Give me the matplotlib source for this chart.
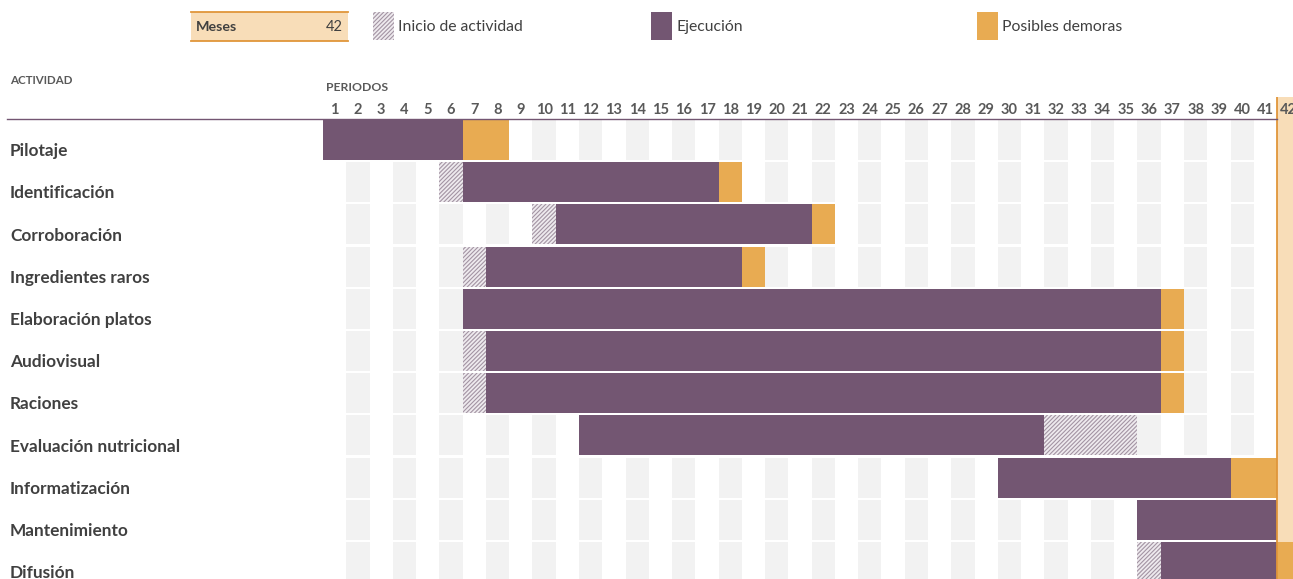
import matplotlib
matplotlib.use("Agg")
import matplotlib.pyplot as plt
from matplotlib.patches import Rectangle
from matplotlib.lines import Line2D

plt.rcParams['font.family'] = ['Lato', 'DejaVu Sans']
plt.rcParams['hatch.linewidth'] = 0.8

actividades = ["Pilotaje", "Identificación", "Corroboración", "Ingredientes raros",
               "Elaboración platos", "Audiovisual", "Raciones", "Evaluación nutricional",
               "Informatización", "Mantenimiento", "Difusión"]
inicio_start = [0, 6, 10, 7, 0, 7, 7, 32, 0, 0, 36]
inicio_len = [0, 1, 1, 1, 0, 1, 1, 4, 0, 0, 1]
ejec_start = [1, 7, 11, 8, 7, 8, 8, 12, 30, 36, 37]
ejec_len = [6, 11, 11, 11, 30, 29, 29, 20, 10, 6, 5]
demora_start = [7, 18, 22, 19, 37, 37, 37, 0, 40, 0, 42]
demora_len = [2, 1, 1, 1, 1, 1, 1, 0, 2, 0, 1]
periodos = list(range(1, 43))
meses = 42

PURPLE = "#735672"
ORANGE = "#E8AB52"
LIGHT_OR = "#F8DDB8"
BORDER_OR = "#E0963A"
GRAY = "#F2F2F2"
TXT = "#404040"
HATCH_FC = "#EEEAEE"
HATCH_EC = "#A394A3"
HATCH = "////////"

W, H = 1293, 579
fig = plt.figure(figsize=(W / 100, H / 100), dpi=100)

# axes: x in periods, y in rows (downward)
ax_left = 323 / W
ax_top_px = 97
ax = fig.add_axes([ax_left, 0, 1 - ax_left, (H - ax_top_px) / H])
row_h = 42.2
ax.set_xlim(0.5, 0.5 + (W - 323) / 23.27)
ax.set_ylim((H - 120) / row_h, -(120 - ax_top_px) / row_h)
ax.axis("off")

n = len(actividades)
bh = 0.95

# highlighted current month column
ax.axvspan(meses - 0.5, meses + 0.5, color=LIGHT_OR, lw=0, zorder=0)
ax.axvline(meses - 0.5, color=BORDER_OR, lw=1.3, zorder=5)

# alternating stripes
for i in range(n):
    for p in periodos:
        if p % 2 == 0 and p != meses:
            ax.barh(i, 1, left=p - 0.5, height=bh, align="edge", color=GRAY, lw=0, zorder=1)

for i in range(n):
    if inicio_len[i]:
        ax.barh(i, inicio_len[i], left=inicio_start[i] - 0.5, height=bh, align="edge",
                color=HATCH_FC, edgecolor=HATCH_EC, hatch=HATCH, lw=0, zorder=2)
    ax.barh(i, ejec_len[i], left=ejec_start[i] - 0.5, height=bh, align="edge",
            color=PURPLE, lw=0, zorder=3)
    if demora_len[i]:
        ax.barh(i, demora_len[i], left=demora_start[i] - 0.5, height=bh, align="edge",
                color=ORANGE, lw=0, zorder=3)

# period numbers
for p in periodos:
    ax.text(p, -0.24, str(p), ha="center", va="center", fontsize=10.5,
            fontweight="bold", color="#595959", zorder=6)

# activity names
for i, a in enumerate(actividades):
    fig.text(10 / W, 1 - (120 + (i + 0.74) * row_h) / H, a, ha="left", va="center",
             fontsize=12.4, fontweight="bold", color=TXT)

fig.text(10 / W, 1 - 80 / H, "ACTIVIDAD", fontsize=8.3, fontweight="bold",
         color="#595959", va="center")
fig.text(326 / W, 1 - 88 / H, "PERIODOS", fontsize=8.8, fontweight="bold",
         color="#595959", va="center")

# header line
fig.add_artist(Line2D([7 / W, 1277 / W], [1 - 119 / H] * 2, color=PURPLE, lw=1))

# "Meses" box
fig.add_artist(Rectangle((191 / W, 1 - 41 / H), (348 - 191) / W, 29 / H,
                         facecolor=LIGHT_OR, edgecolor="none"))
for yy in (12, 41):
    fig.add_artist(Line2D([191 / W, 348 / W], [1 - yy / H] * 2, color=BORDER_OR, lw=1.3))
fig.text(196 / W, 1 - 27 / H, "Meses", fontsize=10.3, fontweight="bold", color=TXT, va="center")
fig.text(343 / W, 1 - 27 / H, str(meses), fontsize=10.5, color=TXT, va="center", ha="right")

# legend
leg = [(373, "Inicio de actividad", dict(facecolor=HATCH_FC, edgecolor=HATCH_EC, hatch=HATCH, lw=0)),
       (651, "Ejecución", dict(facecolor=PURPLE, edgecolor="none")),
       (977, "Posibles demoras", dict(facecolor=ORANGE, edgecolor="none"))]
for x0, lab, kw in leg:
    fig.add_artist(Rectangle((x0 / W, 1 - 40 / H), 21 / W, 28 / H, **kw))
    fig.text((x0 + 25) / W, 1 - 27 / H, lab, fontsize=11.3, color=TXT, va="center")

fig.savefig("out.png", dpi=100)
